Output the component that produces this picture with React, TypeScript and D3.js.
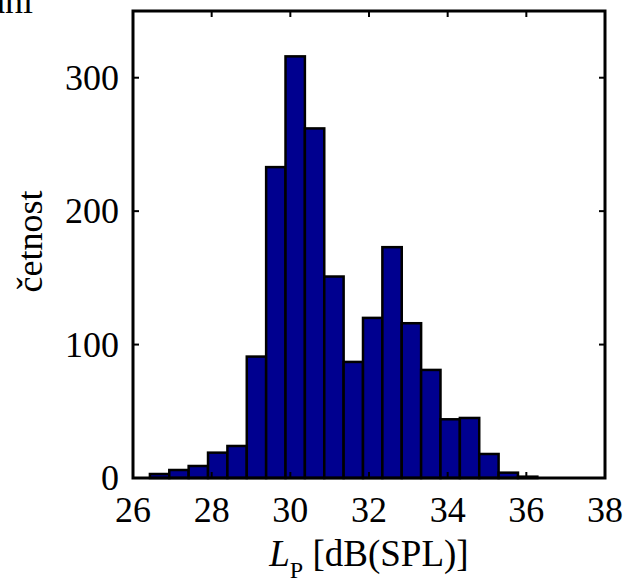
import React from "react";
import * as d3 from "d3";

const counts = [3, 6, 9, 19, 24, 91, 233, 316, 262, 151, 87, 120, 173, 116, 81, 44, 45, 18, 4, 1];
const histMin = 26.43;
const histMax = 36.28;
const xTicks = [26, 28, 30, 32, 34, 36, 38];
const yTicks = [0, 100, 200, 300];
const xDomain = [26, 38];
const yDomain = [0, 350];

const W = 625;
const H = 584;
const left = 133;
const right = 605;
const top = 11;
const bottom = 478;

export default function App() {
  const x = d3.scaleLinear().domain(xDomain).range([left, right]);
  const y = d3.scaleLinear().domain(yDomain).range([bottom, top]);
  const binW = (histMax - histMin) / counts.length;
  const font = "'Liberation Serif', 'Times New Roman', serif";
  const fs = 36;
  const tickLen = 6;

  return (
    <svg
      width={W}
      height={H}
      style={{ position: "absolute", left: 0, top: 0, background: "#fff" }}
      fontFamily={font}
    >
      <rect x={0} y={0} width={W} height={H} fill="#fff" />
      <text x={-11} y={13} fontSize={fs} fill="#000">ani</text>
      {counts.map((c, i) => {
        const x0 = x(histMin + i * binW);
        const x1 = x(histMin + (i + 1) * binW);
        return (
          <rect
            key={i}
            x={x0}
            y={y(c)}
            width={x1 - x0}
            height={y(0) - y(c)}
            fill="#00008F"
            stroke="#000"
            strokeWidth={2.5}
          />
        );
      })}
      {xTicks.map((t) => (
        <g key={"x" + t}>
          <line x1={x(t)} x2={x(t)} y1={bottom} y2={bottom - tickLen} stroke="#000" strokeWidth={2} />
          <line x1={x(t)} x2={x(t)} y1={top} y2={top + tickLen} stroke="#000" strokeWidth={2} />
          <text x={x(t)} y={522} fontSize={fs} textAnchor="middle" fill="#000">{t}</text>
        </g>
      ))}
      {yTicks.map((t) => (
        <g key={"y" + t}>
          <line x1={left} x2={left + tickLen} y1={y(t)} y2={y(t)} stroke="#000" strokeWidth={2} />
          <line x1={right} x2={right - tickLen} y1={y(t)} y2={y(t)} stroke="#000" strokeWidth={2} />
          <text x={119} y={y(t) + 12} fontSize={fs} textAnchor="end" fill="#000">{t}</text>
        </g>
      ))}
      <rect x={left} y={top} width={right - left} height={bottom - top} fill="none" stroke="#000" strokeWidth={3} />
      <text
        transform={`translate(42, ${(top + bottom) / 2 - 3}) rotate(-90)`}
        fontSize={fs}
        textAnchor="middle"
        fill="#000"
      >
        četnost
      </text>
      <text x={(left + right) / 2} y={566} fontSize={37} textAnchor="middle" fill="#000">
        <tspan fontStyle="italic">L</tspan>
        <tspan fontSize={24} dy={12}>P</tspan>
        <tspan dy={-12}> [dB(SPL)]</tspan>
      </text>
    </svg>
  );
}
